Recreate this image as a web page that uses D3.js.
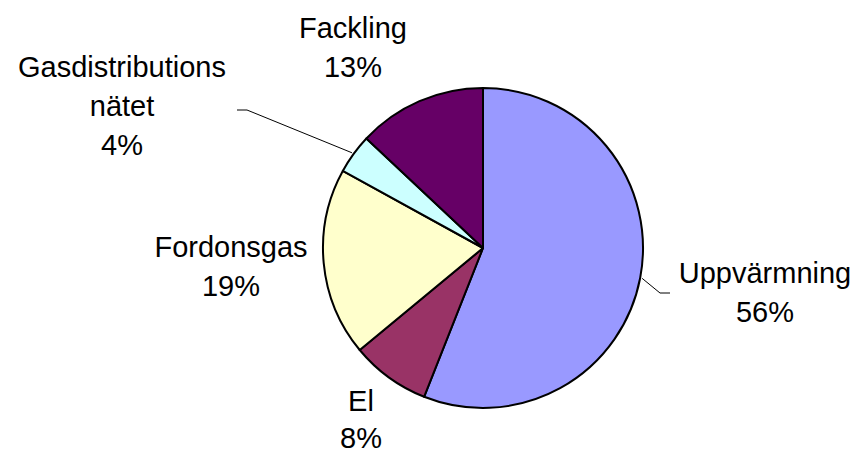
<!DOCTYPE html>
<html>
<head>
<meta charset="utf-8">
<script src="https://cdn.jsdelivr.net/npm/d3@7"></script>
<style>
  html, body { margin: 0; padding: 0; background: #fff; }
  svg { display: block; }
  text { font-family: "Liberation Sans", Arial, sans-serif; font-size: 29px; fill: #000; }
</style>
</head>
<body>
<svg id="chart" width="861" height="456"></svg>
<script>
// Biogas use by category, share in percent
const categories = ["Uppvärmning", "El", "Fordonsgas", "Gasdistributionsnätet", "Fackling"];
const values = [56, 8, 19, 4, 13];
const colors = ["#9999FF", "#993366", "#FFFFCC", "#CCFFFF", "#660066"];

// Label placement (text centre x, first baseline y, wrapped lines, optional leader elbow/end)
const labelLayout = {
  "Uppvärmning": { x: 765, y: 283, lines: ["Uppvärmning"], leader: [[660, 293], [670, 293]] },
  "El": { x: 361, y: 411, lines: ["El"], step: 37 },
  "Fordonsgas": { x: 231, y: 257, lines: ["Fordonsgas"] },
  "Gasdistributionsnätet": { x: 122, y: 77, lines: ["Gasdistributions", "nätet"], leader: [[247, 110], [237, 110]] },
  "Fackling": { x: 353, y: 38, lines: ["Fackling"] }
};
const lineStep = 39;

const cx = 483, cy = 248, radius = 160;
const svg = d3.select("#chart");

const data = categories.map((c, i) => ({ name: c, value: values[i], color: colors[i] }));
const pie = d3.pie().sort(null).value(d => d.value);
const arc = d3.arc().innerRadius(0).outerRadius(radius);
const arcs = pie(data);

const g = svg.append("g").attr("transform", `translate(${cx},${cy})`);
g.selectAll("path.slice")
  .data(arcs)
  .join("path")
  .attr("class", "slice")
  .attr("d", arc)
  .attr("fill", d => d.data.color)
  .attr("stroke", "#000")
  .attr("stroke-width", 2)
  .attr("stroke-linejoin", "round");

// Leader lines from the slice edge to the label
arcs.forEach(a => {
  const lay = labelLayout[a.data.name];
  if (!lay.leader) return;
  const mid = (a.startAngle + a.endAngle) / 2;
  const r = radius + 2;
  const start = [cx + Math.sin(mid) * r, cy - Math.cos(mid) * r];
  const pts = [start, ...lay.leader];
  svg.append("path")
    .attr("d", d3.line()(pts))
    .attr("fill", "none")
    .attr("stroke", "#000")
    .attr("stroke-width", 1);
});

// Category and percentage labels
arcs.forEach(a => {
  const lay = labelLayout[a.data.name];
  const step = lay.step || lineStep;
  const t = svg.append("text")
    .attr("text-anchor", "middle")
    .attr("x", lay.x)
    .attr("y", lay.y);
  const lines = [...lay.lines, `${a.data.value}%`];
  lines.forEach((ln, i) => {
    t.append("tspan")
      .attr("x", lay.x)
      .attr("dy", i === 0 ? 0 : step)
      .text(ln);
  });
});
</script>
</body>
</html>
